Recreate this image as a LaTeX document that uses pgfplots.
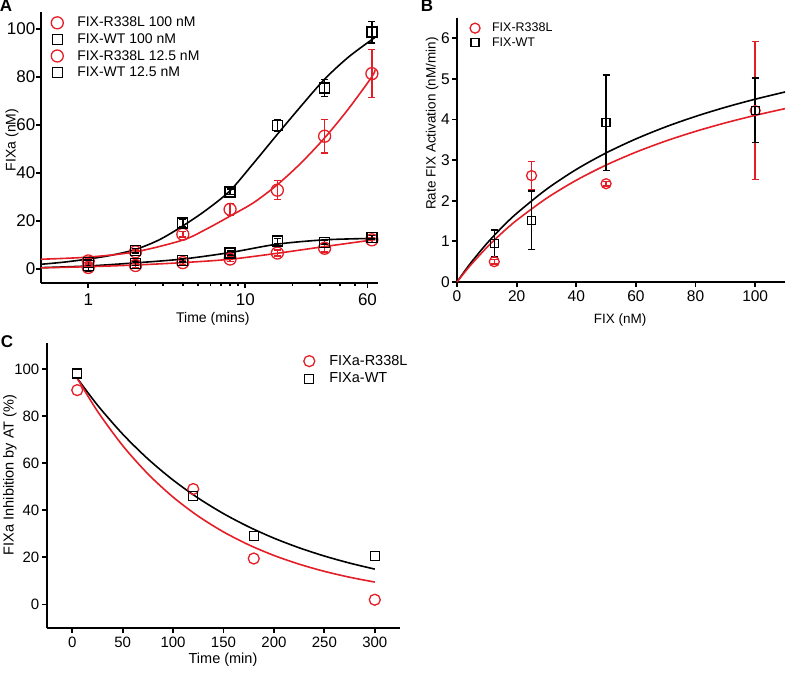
\documentclass[border=0pt]{standalone}
\usepackage{pgfplots}
\pgfplotsset{compat=1.18}
\usepackage{fontspec}
\setmainfont{Liberation Sans}
\definecolor{fred}{RGB}{228,30,38}
\pgfplotsset{
  panel/.style={
    scale only axis,
    axis lines=left,
    axis line style={-, line width=2.4pt},
    tick style={line width=1.8pt, black},
    tick align=outside,
    major tick length=5pt,
    minor tick length=3pt,
    /pgf/number format/assume math mode=true,
    clip=false,
    legend cell align=left,
    legend image code/.code={\path[draw=none,fill=none] (0pt,0pt) -- (26pt,0pt); \draw[mark repeat=2,mark phase=2,##1] plot coordinates {(0pt,0pt) (8pt,0pt) (16pt,0pt)};},
  },
  rs/.style={only marks, mark=o, color=fred, line width=1.3pt, mark size=#1},
  ws/.style={only marks, mark=square, color=black, line width=1.3pt, mark size=#1},
  ebar/.style={error bars/.cd, y dir=both, y explicit, error bar style={line width=1.4pt}, error mark options={rotate=90, mark size=3.5pt, line width=1.4pt}},
  curve/.style={no marks, smooth, line width=1.6pt, forget plot},
}
\begin{document}
\begin{tikzpicture}
\useasboundingbox (0pt,0pt) rectangle (786pt,673pt);
% ---------------- Panel A ----------------
\begin{axis}[panel,
  at={(41pt,390pt)}, anchor=south west, width=337pt, height=271pt,
  xmode=log, log basis x=10, xmin=0.5, xmax=70, ymin=-6, ymax=107,
  xtick={1,10,60}, xticklabels={1,10,60},
  minor xtick={2,3,4,5,6,7,8,9,20,30,40,50},
  ytick={0,20,40,60,80,100},
  tick label style={font=\fontsize{17}{20}\selectfont},
  yticklabel style={inner xsep=0.5pt},
  xticklabel style={yshift=-2pt},
  xlabel={Time (mins)}, ylabel={FIXa (nM)},
  label style={font=\fontsize{14}{16}\selectfont},
  xlabel style={at={(axis description cs:0.51,0)}, anchor=center, yshift=-36pt},
  ylabel style={at={(axis description cs:0,0.528)}, anchor=center, yshift=29pt},
  legend style={draw=none, fill=none, at={(axis description cs:0.021,1.0)}, anchor=north west, yshift=-2pt, font=\fontsize{14}{17}\selectfont, row sep=1.3pt, inner sep=1pt},
]
\addplot[curve, black] coordinates {(0.5,1.8) (0.7,2.7) (1,4) (1.41,5.6) (2,8) (2.83,12) (4,17.8) (5.66,24.5) (8,32.5) (11.3,44) (16,56) (22.6,67.7) (32,79) (45,88) (64,95.5) (66,96)};
\addplot[curve, fred] coordinates {(0.5,3.9) (1,4.8) (2,7) (4,11.9) (5.66,16.5) (8,21.9) (11.3,27.5) (16,35) (22.6,44) (32,54.5) (45,66.3) (64,80) (67,83)};
\addplot[curve, black] coordinates {(0.5,0.4) (1,1.1) (2,2.4) (4,4.0) (8,6.7) (16,10.2) (32,12.0) (64,12.6) (66,12.6)};
\addplot[curve, fred] coordinates {(0.5,0.3) (1,0.8) (2,1.5) (4,2.5) (8,3.9) (16,6.4) (32,9.2) (64,11.9) (66,12)};
\addplot[rs=6pt, ebar] table[y error=ey] {
x y ey
1 3.2 0.8
2 7.0 0.8
4 14.3 1.2
8 24.7 2.5
16 32.7 4
32 55.2 7
64 81.3 10
};
\addlegendentry{FIX-R338L 100 nM}
\addplot[ws=5pt, ebar] table[y error=ey] {
x y ey
1 2.5 1
2 7.5 1
4 19 1.5
8 32 1.2
16 59.6 2.5
32 75.3 3.5
64 98.6 4.5
};
\addlegendentry{FIX-WT 100 nM}
\addplot[rs=6pt, ebar] table[y error=ey] {
x y ey
1 0.5 1.5
2 1.3 0.8
4 2.5 0.8
8 4.0 1
16 6.5 1.2
32 8.5 1.5
64 12 1
};
\addlegendentry{FIX-R338L 12.5 nM}
\addplot[ws=5pt, ebar] table[y error=ey] {
x y ey
1 1.2 2.5
2 2.2 1
4 3.5 0.8
8 6.5 0.8
16 11.5 1
32 11 0.8
64 13 0.8
};
\addlegendentry{FIX-WT 12.5 nM}
\end{axis}
% ---------------- Panel B ----------------
\begin{axis}[panel,
  at={(457pt,391pt)}, anchor=south west, width=328pt, height=264pt,
  xmin=0, xmax=110, ymin=0, ymax=6.5,
  xtick={0,20,40,60,80,100}, ytick={0,1,2,3,4,5,6},
  tick label style={font=\fontsize{15.5}{18}\selectfont},
  yticklabel style={inner xsep=2pt},
  xlabel={FIX (nM)}, ylabel={Rate FIX Activation (nM/min)},
  label style={font=\fontsize{13.5}{16}\selectfont},
  xlabel style={at={(axis description cs:0.497,0)}, anchor=center, yshift=-38pt},
  ylabel style={at={(axis description cs:0,0.60)}, anchor=center, yshift=25pt},
  legend image code/.code={\path[draw=none,fill=none] (0pt,0pt) -- (23pt,0pt); \draw[mark repeat=2,mark phase=2,#1] plot coordinates {(0pt,0pt) (8pt,0pt) (16pt,0pt)};},
  legend style={draw=none, fill=none, at={(axis description cs:0.027,0.993)}, anchor=north west, font=\fontsize{12.5}{15}\selectfont, row sep=0.5pt, inner sep=1pt},
]
\addplot[curve, black] coordinates {(0,0) (2.5,0.261) (5,0.505) (10,0.948) (15,1.340) (20,1.689) (30,2.283) (40,2.771) (50,3.178) (60,3.523) (70,3.820) (80,4.077) (90,4.302) (100,4.501) (110,4.678)};
\addplot[curve, fred] coordinates {(0,0) (2.5,0.233) (5,0.452) (10,0.850) (15,1.203) (20,1.519) (30,2.060) (40,2.505) (50,2.879) (60,3.197) (70,3.471) (80,3.709) (90,3.918) (100,4.103) (110,4.268)};
\addplot[rs=5pt, ebar] table[y error=ey] {
x y ey
12.5 0.50 0.06
25 2.62 0.35
50 2.42 0.06
100 4.22 1.7
};
\addlegendentry{FIX-R338L}
\addplot[ws=4pt, ebar] table[y error=ey] {
x y ey
12.5 0.95 0.33
25 1.52 0.72
50 3.92 1.18
100 4.23 0.79
};
\addlegendentry{FIX-WT}
\end{axis}
% ---------------- Panel C ----------------
\begin{axis}[panel,
  at={(47pt,45pt)}, anchor=south west, width=353pt, height=285pt,
  xmin=-25, xmax=325, ymin=-10, ymax=111,
  xtick={0,50,100,150,200,250,300}, ytick={0,20,40,60,80,100},
  tick label style={font=\fontsize{15}{18}\selectfont},
  yticklabel style={inner xsep=2.5pt},
  xlabel={Time (min)}, ylabel={FIXa Inhibition by AT (\%)},
  label style={font=\fontsize{14.5}{17}\selectfont},
  xlabel style={at={(axis description cs:0.4986,0)}, anchor=center, yshift=-32pt},
  ylabel style={at={(axis description cs:0,0.537)}, anchor=center, yshift=37pt},
  legend style={draw=none, fill=none, at={(axis description cs:0.717,0.968)}, anchor=north west, font=\fontsize{14.5}{17}\selectfont, row sep=2pt, inner sep=1pt},
]
\addplot[curve, black] coordinates {(5,96) (25,84.65) (50,72.34) (75,61.81) (100,52.81) (125,45.13) (150,38.56) (175,32.95) (200,28.15) (225,24.06) (250,20.56) (275,17.57) (300,15.0)};
\addplot[curve, fred] coordinates {(5,96) (25,82.07) (50,67.46) (75,55.45) (100,45.58) (125,37.47) (150,30.80) (175,25.32) (200,20.81) (225,17.11) (250,14.06) (275,11.56) (300,9.5)};
\addplot[rs=5.5pt] table {
x y
5 91
120 49
180 19.5
300 2
};
\addlegendentry{FIXa-R338L}
\addplot[ws=4.5pt] table {
x y
5 98
120 46
180 29
300 20.5
};
\addlegendentry{FIXa-WT}
\end{axis}
% panel letters
\node[font=\bfseries\fontsize{17}{20}\selectfont, anchor=north, inner sep=0pt] at (6pt,673pt) {A};
\node[font=\bfseries\fontsize{17}{20}\selectfont, anchor=north, inner sep=0pt] at (427pt,673pt) {B};
\node[font=\bfseries\fontsize{17}{20}\selectfont, anchor=north, inner sep=0pt] at (7pt,338pt) {C};
\end{tikzpicture}
\end{document}
